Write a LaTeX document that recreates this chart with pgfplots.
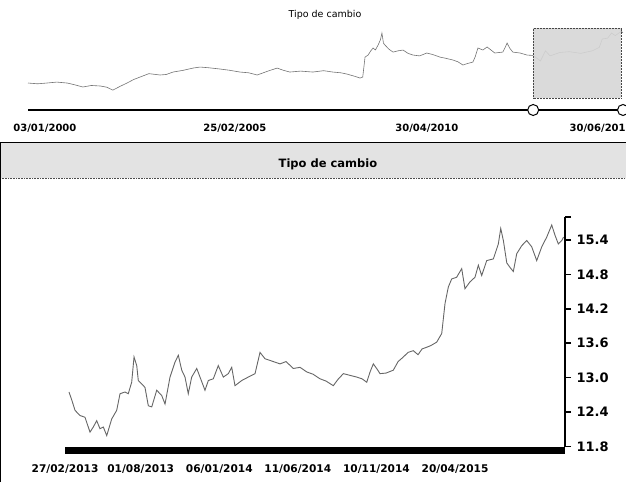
\documentclass[border=0pt]{standalone}
\usepackage{fontspec}
\setmainfont{DejaVu Sans}
\usepackage{pgfplots}
\pgfplotsset{compat=1.18}
\usepackage{pgfplotstable}

\pgfplotstableread{
x y
2000.00 9.49
2000.25 9.40
2000.49 9.49
2000.75 9.60
2001.02 9.49
2001.20 9.30
2001.43 9.02
2001.65 9.20
2001.88 9.14
2002.05 9.00
2002.21 8.65
2002.40 9.10
2002.58 9.49
2002.75 9.90
2002.92 10.20
2003.15 10.60
2003.44 10.44
2003.60 10.50
2003.78 10.79
2004.05 11.00
2004.30 11.26
2004.48 11.38
2004.70 11.30
2005.00 11.15
2005.25 11.00
2005.52 10.79
2005.75 10.70
2005.97 10.44
2006.25 10.90
2006.49 11.26
2006.65 11.00
2006.82 10.79
2007.10 10.90
2007.42 10.79
2007.70 10.95
2007.94 10.79
2008.15 10.70
2008.31 10.55
2008.50 10.30
2008.65 10.08
2008.72 10.20
2008.78 12.56
2008.86 12.80
2008.93 13.30
2008.99 13.63
2009.05 13.40
2009.12 13.98
2009.18 14.60
2009.22 15.40
2009.26 14.20
2009.30 13.98
2009.40 13.50
2009.51 13.15
2009.64 13.30
2009.77 13.39
2009.90 13.00
2010.03 12.80
2010.20 12.70
2010.39 13.04
2010.55 12.85
2010.73 12.56
2010.90 12.40
2011.07 12.21
2011.20 12.00
2011.33 11.62
2011.45 11.80
2011.59 11.97
2011.65 12.60
2011.72 13.63
2011.85 13.40
2011.96 13.75
2012.06 13.40
2012.16 13.04
2012.27 13.10
2012.37 13.15
2012.44 13.80
2012.48 14.22
2012.55 13.60
2012.63 13.15
2012.82 13.04
2013.00 12.80
2013.16 12.75
2013.35 12.10
2013.48 13.30
2013.60 12.70
2013.85 13.10
2014.10 13.20
2014.40 13.00
2014.70 13.30
2014.88 13.70
2014.96 14.70
2015.10 14.80
2015.20 15.40
2015.30 15.10
2015.45 15.60
2015.50 15.45
}\navdata

\pgfplotstableread{
x y
5.6 12.75
9.8 12.60
14.1 12.43
21.1 12.34
28.1 12.31
35.2 12.05
39.8 12.14
44.6 12.25
49.2 12.11
53.9 12.14
58.7 11.99
65.7 12.28
72.7 12.43
77.4 12.72
84.4 12.75
89.0 12.72
93.8 12.92
97.1 13.36
100.9 13.21
103.1 12.95
107.9 12.89
112.5 12.83
117.2 12.51
122.0 12.49
129.0 12.78
136.0 12.69
140.7 12.54
147.7 13.01
154.7 13.27
159.4 13.39
164.2 13.13
168.8 13.01
173.4 12.72
178.2 13.01
185.3 13.16
189.9 13.01
196.9 12.78
201.6 12.95
208.6 12.98
215.6 13.21
222.7 13.01
229.7 13.07
234.5 13.18
239.1 12.86
248.6 12.95
257.8 13.01
267.3 13.07
274.3 13.44
281.3 13.33
288.4 13.30
302.4 13.24
310.9 13.28
321.2 13.16
330.6 13.18
340.0 13.10
348.9 13.06
358.7 12.98
367.2 12.94
377.4 12.86
384.0 12.97
391.5 13.07
400.9 13.04
410.3 13.01
417.8 12.98
424.4 12.92
429.1 13.10
433.7 13.24
438.9 13.15
443.1 13.07
451.6 13.08
461.8 13.13
468.5 13.28
475.9 13.36
482.5 13.44
489.9 13.47
496.6 13.40
502.2 13.50
508.8 13.53
514.8 13.56
522.9 13.62
529.9 13.77
534.5 14.29
539.2 14.58
543.9 14.72
550.9 14.75
558.0 14.90
562.6 14.55
569.7 14.67
576.7 14.75
581.4 14.96
586.1 14.78
593.2 15.04
602.5 15.07
609.5 15.33
612.9 15.60
616.6 15.39
621.4 15.00
626.0 14.92
630.6 14.85
635.4 15.16
642.4 15.30
649.5 15.39
656.5 15.28
663.5 15.04
670.6 15.28
677.6 15.45
684.6 15.66
689.3 15.48
693.9 15.33
698.7 15.39
701.2 15.45
}\maindata

\begin{document}
\begin{tikzpicture}
\useasboundingbox (0pt,0pt) rectangle (626pt,482pt);
% header band of the main chart
\fill[gray!22] (0pt,304pt) rectangle (626pt,339pt);
\draw[black, line width=1pt] (0pt,339pt) -- (626pt,339pt);
\draw[gray!60!black, densely dotted, line width=0.6pt] (0pt,304pt) -- (626pt,304pt);
\draw[black, line width=0.8pt] (0.8pt,0pt) -- (0.8pt,339pt);
\node[font=\bfseries\fontsize{11.5}{13}\selectfont] at (328pt,318pt) {Tipo de cambio};
\node[font=\fontsize{9.5}{11}\selectfont] at (325pt,467pt) {Tipo de cambio};

% navigator
\begin{axis}[
  at={(28pt,372pt)}, anchor=south west, scale only axis,
  width=595pt, height=82pt,
  xmin=2000, xmax=2015.5, ymin=6.3, ymax=16.0,
  axis x line=bottom, axis y line=none,
  x axis line style={-, line width=1.2pt, black},
  xtick={2000.44,2005.39,2010.39,2014.93},
  xticklabels={03/01/2000,25/02/2005,30/04/2010,30/06/2015},
  major tick length=0pt,
  xticklabel style={font=\bfseries\fontsize{10}{12}\selectfont, anchor=base, yshift=-21.5pt},
  clip=false,
]
\addplot[black!55, line width=0.6pt] table {\navdata};
\fill[gray!32, opacity=0.9] (axis cs:2013.16,7.7) rectangle (axis cs:2015.45,16.0);
\draw[gray!55!black, densely dotted, line width=0.5pt] (axis cs:2013.16,7.7) rectangle (axis cs:2015.45,16.0);
\draw[black, line width=1pt, fill=white] (axis cs:2013.16,6.3) circle[radius=5.5pt];
\draw[black, line width=1pt, fill=white] (axis cs:2015.5,6.3) circle[radius=5.5pt];
\end{axis}

% main chart
\begin{axis}[
  at={(65pt,35.5pt)}, anchor=south west, scale only axis,
  width=500pt, height=229.5pt,
  xmin=0, xmax=703.3, ymin=11.8, ymax=15.8,
  axis x line=bottom, axis y line=right,
  x axis line style={draw=none},
  y axis line style={-, line width=1.5pt, black},
  xtick={0,106.4,217,327.5,438.1,548.7},
  xticklabels={27/02/2013,01/08/2013,06/01/2014,11/06/2014,10/11/2014,20/04/2015},
  x tick style={draw=none},
  xticklabel style={font=\bfseries\fontsize{10.6}{12}\selectfont, anchor=base, yshift=-20pt},
  ytick={11.8,12.4,13.0,13.6,14.2,14.8,15.4},
  yticklabels={11.8,12.4,13.0,13.6,14.2,14.8,15.4},
  extra y ticks={15.8}, extra y tick labels={},
  tick align=outside, major tick length=6pt,
  y tick style={line width=1.5pt, black},
  yticklabel style={font=\bfseries\fontsize{13}{15}\selectfont, anchor=west, xshift=2pt},
  after end axis/.code={\fill[black] (rel axis cs:0,0) rectangle ([yshift=-7pt]rel axis cs:1,0);},
]
\addplot[black!60, line width=0.9pt] table {\maindata};
\end{axis}
\end{tikzpicture}
\end{document}
